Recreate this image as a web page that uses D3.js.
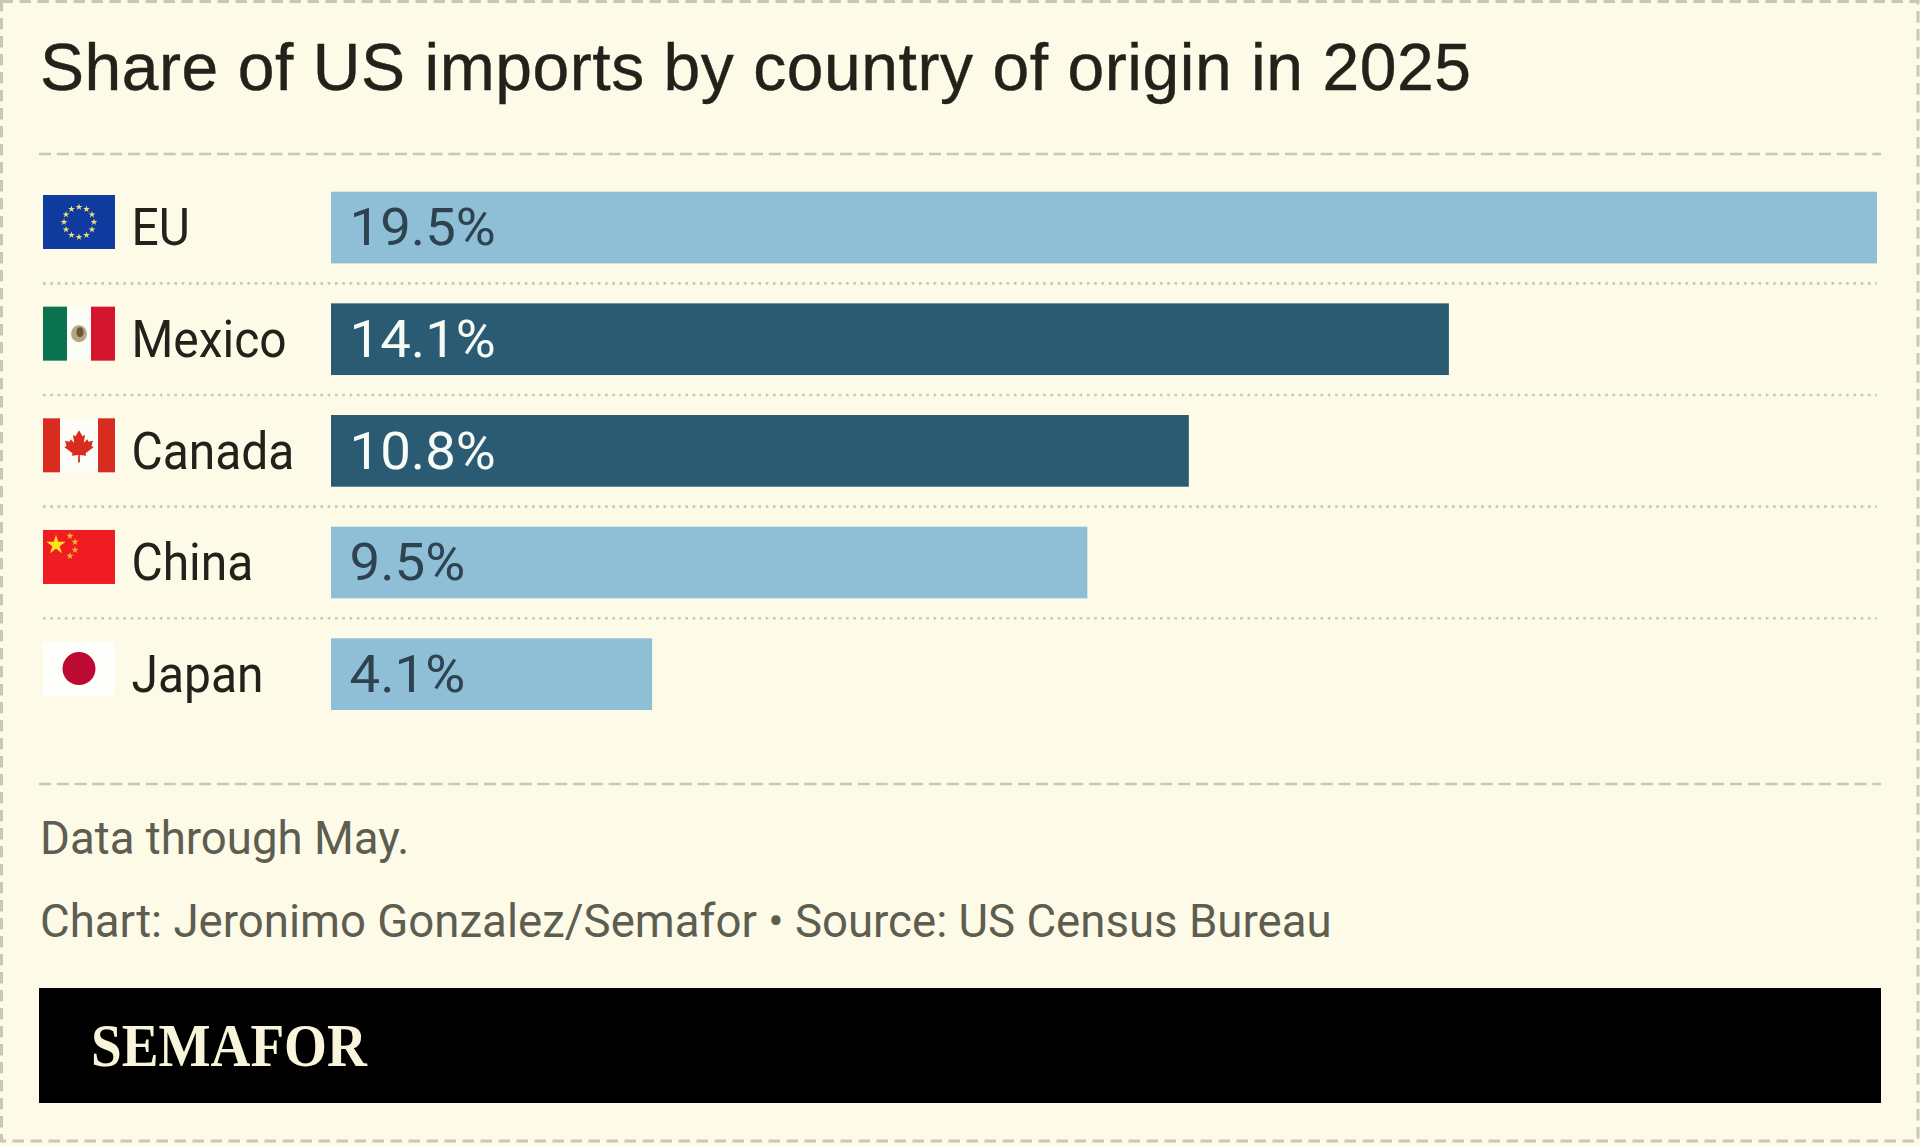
<!DOCTYPE html>
<html>
<head>
<meta charset="utf-8">
<script src="https://cdn.jsdelivr.net/npm/d3@7"></script>
<style>
html,body{margin:0;padding:0;background:#fdfae8;}
svg{display:block;}
</style>
</head>
<body>
<div id="chart"></div>
<script>
const countries = ["EU", "Mexico", "Canada", "China", "Japan"];
const shares = [19.5, 14.1, 10.82, 9.54, 4.05];
const shareLabels = ["19.5%", "14.1%", "10.8%", "9.5%", "4.1%"];
const highlighted = ["Mexico", "Canada"];
const titleText = "Share of US imports by country of origin in 2025";
const noteText = "Data through May.";
const creditText = "Chart: Jeronimo Gonzalez/Semafor \u2022 Source: US Census Bureau";
const brandText = "SEMAFOR";

const W = 1920, H = 1146;
const BG = "#fdfae8", RULE = "#c9c7b6", LIGHT = "#8fbed7", DARK = "#2b5b73";
const svg = d3.select("#chart").append("svg").attr("width", W).attr("height", H).attr("viewBox", `0 0 ${W} ${H}`);
svg.append("rect").attr("width", W).attr("height", H).attr("fill", BG);

const x = d3.scaleLinear().domain([0, 19.5]).range([331, 1877]);
const y = d3.scaleBand().domain(countries).range([191.7, 710]).paddingInner(0.358).paddingOuter(0);

// frame
svg.append("rect").attr("x", 1.5).attr("y", 1.5).attr("width", 1916.5).attr("height", 1139.5)
  .attr("fill", "none").attr("stroke", RULE).attr("stroke-width", 3).attr("stroke-dasharray", "11.5,6.5");

// dashed rules
[154, 784].forEach(v => svg.append("line").attr("x1", 39).attr("x2", 1881).attr("y1", v).attr("y2", v)
  .attr("stroke", RULE).attr("stroke-width", 2.6).attr("stroke-dasharray", "12,5.8"));

// dotted row rules
svg.append("g").selectAll("line").data(countries.slice(1)).join("line")
  .attr("x1", 43).attr("x2", 1877)
  .attr("y1", d => y(d) - 20).attr("y2", d => y(d) - 20)
  .attr("stroke", RULE).attr("stroke-width", 2.6).attr("stroke-dasharray", "2.6,4.7");

function label(parent, txt, px, py, size, fill, family, sx, weight, spacing) {
  return parent.append("text")
    .attr("transform", `translate(${px},${py}) scale(${sx},1)`)
    .attr("font-family", family).attr("font-size", size).attr("fill", fill)
    .attr("font-weight", weight || 400).attr("letter-spacing", spacing || 0).text(txt);
}
const SANS = "Roboto, sans-serif";

// flags, each drawn inside a 72 x 54 box
function star(g, cx, cy, r, fill) {
  g.append("path").attr("transform", `translate(${cx},${cy})`)
    .attr("d", d3.symbol(d3.symbolStar, r * r * 1.6)()).attr("fill", fill);
}
function box(g, px, w, fill) {
  g.append("rect").attr("x", px).attr("y", 0).attr("width", w).attr("height", 54).attr("fill", fill);
}
const flags = {
  EU(g) {
    box(g, 0, 72, "#0f3a9e");
    d3.range(12).forEach(k => {
      const a = k / 12 * 2 * Math.PI;
      star(g, 36 + 15 * Math.sin(a), 27 - 15 * Math.cos(a), 3, "#f3e27a");
    });
  },
  Mexico(g) {
    box(g, 0, 24, "#0b7350"); box(g, 24, 24, "#fdfdf8"); box(g, 48, 24, "#d5152d");
    g.append("ellipse").attr("cx", 36).attr("cy", 27).attr("rx", 8).attr("ry", 8.5).attr("fill", "#b5a583");
    g.append("ellipse").attr("cx", 37).attr("cy", 25.5).attr("rx", 3.5).attr("ry", 5).attr("fill", "#6a5733");
  },
  Canada(g) {
    box(g, 0, 17, "#d82c20"); box(g, 17, 38, "#fdfdf8"); box(g, 55, 17, "#d82c20");
    g.append("path").attr("fill", "#d82c20").attr("transform", "translate(36,27)")
      .attr("d", "M0,-15 L3.5,-9 L6,-10.5 L4.8,-2.5 L8.5,-6 L9.5,-3.5 L14,-4.5 L12.5,0.5 L14.5,2 L6.5,8 L7.3,10.5 L0.8,9.6 L1,17 L-1,17 L-0.8,9.6 L-7.3,10.5 L-6.5,8 L-14.5,2 L-12.5,0.5 L-14,-4.5 L-9.5,-3.5 L-8.5,-6 L-4.8,-2.5 L-6,-10.5 L-3.5,-9 Z");
  },
  China(g) {
    box(g, 0, 72, "#ef1c24");
    star(g, 13, 15, 8.5, "#ffdf1e");
    [[27, 6], [32, 12], [32, 20], [27, 26]].forEach(p => star(g, p[0], p[1], 3.2, "#f7b22c"));
  },
  Japan(g) {
    box(g, 0, 72, "#fefefa");
    g.append("circle").attr("cx", 36).attr("cy", 27).attr("r", 16.5).attr("fill", "#bc0a33");
  }
};

label(svg, titleText, 40, 89.5, 66, "#23211a", "'Liberation Sans', Arial, sans-serif", 1, 400, 0.55)
  .attr("stroke", "#23211a").attr("stroke-width", 0.4);

// bars
const rows = svg.append("g").selectAll("g").data(countries).join("g");
rows.append("rect")
  .attr("x", x(0)).attr("y", d => y(d))
  .attr("width", (d, i) => x(shares[i]) - x(0)).attr("height", y.bandwidth())
  .attr("fill", d => highlighted.includes(d) ? DARK : LIGHT);

rows.each(function (d, i) {
  const g = d3.select(this);
  const base = y(d) + 53.5;
  label(g, d, 131.5, base, 51, "#23211a", SANS, 0.94);
  label(g, shareLabels[i], 349.5, base, 51, highlighted.includes(d) ? "#f6fbf5" : "#2f4250", SANS, 1.07);
  const fl = g.append("g").attr("transform", `translate(43,${y(d) + 3.3})`);
  flags[d](fl);
});

label(svg, noteText, 40, 854, 47, "#5d5d50", SANS, 0.97);
label(svg, creditText, 40, 937, 47, "#5d5d50", SANS, 0.97);

// brand bar
svg.append("rect").attr("x", 39).attr("y", 988).attr("width", 1842).attr("height", 115).attr("fill", "#000");
label(svg, brandText, 91, 1066, 62, "#f8f5da", "'Liberation Serif', serif", 0.89, 700);
</script>
</body>
</html>
